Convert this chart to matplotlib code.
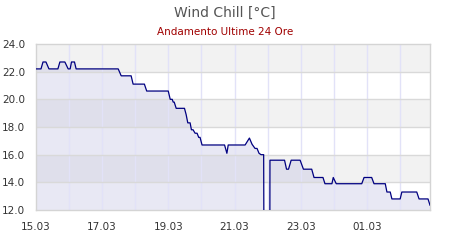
import matplotlib
matplotlib.use("Agg")
import matplotlib.pyplot as plt

# Data (days since 15.03, wind chill in °C)
days = [0.00, 0.16, 0.22, 0.31, 0.40, 0.67, 0.73, 0.88, 0.98, 1.04, 1.08, 1.17, 1.22,
        2.49, 2.58, 2.88, 2.94, 3.28, 3.35, 4.00, 4.06, 4.12, 4.15, 4.18, 4.24, 4.49,
        4.54, 4.59, 4.66, 4.70, 4.75, 4.81, 4.87, 4.92, 4.96, 5.02, 5.70, 5.77, 5.81,
        6.32, 6.45, 6.53, 6.62, 6.68, 6.74, 6.80, 6.88, 6.90, 7.06, 7.07, 7.51, 7.57,
        7.63, 7.71, 7.98, 8.08, 8.33, 8.40, 8.67, 8.73, 8.94, 8.98, 9.07, 9.84, 9.91,
        10.14, 10.21, 10.55, 10.60, 10.70, 10.75, 11.00, 11.05, 11.50, 11.57, 11.84, 11.90]
wind_chill = [22.2, 22.2, 22.7, 22.7, 22.2, 22.2, 22.7, 22.7, 22.2, 22.2, 22.7, 22.7, 22.2,
              22.2, 21.7, 21.7, 21.1, 21.1, 20.6, 20.6, 20.0, 20.0, 19.8, 19.8, 19.35, 19.35,
              18.9, 18.3, 18.3, 17.8, 17.8, 17.55, 17.55, 17.25, 17.25, 16.7, 16.7, 16.1, 16.7,
              16.7, 17.2, 16.75, 16.45, 16.45, 16.1, 16.0, 16.0, 0.0, 0.0, 15.6, 15.6, 14.95,
              14.95, 15.6, 15.6, 14.95, 14.95, 14.35, 14.35, 13.9, 13.9, 14.35, 13.9, 13.9, 14.35,
              14.35, 13.9, 13.9, 13.3, 13.3, 12.8, 12.8, 13.3, 13.3, 12.8, 12.8, 12.35]

x_tick_pos = list(range(12))
x_tick_labels = ["15.03", "", "17.03", "", "19.03", "", "21.03", "", "23.03", "", "01.03", ""]
y_ticks = [12, 14, 16, 18, 20, 22, 24]
band_ranges = [(14, 16), (18, 20), (22, 24)]

fig = plt.figure(figsize=(4.5, 2.4), dpi=100)
ax = fig.add_axes([35.7 / 450, 1 - 210 / 240, (430 - 35.7) / 450, (210 - 44) / 240])

for lo, hi in band_ranges:
    ax.axhspan(lo, hi, color="#f2f2f2", zorder=0, lw=0)

ax.fill_between(days, wind_chill, 12, color="#b4b4dc", alpha=0.3, lw=0, zorder=1)

for xv in x_tick_pos[1:]:
    ax.axvline(xv, color="#e2e2f8", lw=1, zorder=1.5)
for yv in y_ticks[1:-1]:
    ax.axhline(yv, color="#d9d9d9", lw=1, zorder=1.5)

ax.plot(days, wind_chill, color="#000080", lw=0.9, zorder=3)

ax.set_xlim(0, 11.9)
ax.set_ylim(12, 24)
ax.set_xticks(x_tick_pos)
ax.set_xticklabels(x_tick_labels)
ax.set_yticks(y_ticks)
ax.set_yticklabels([f"{v:.1f}" for v in y_ticks])
ax.tick_params(axis="both", length=0, labelsize=7.5, labelcolor="#333333")
ax.tick_params(axis="x", pad=8.5)
ax.tick_params(axis="y", pad=7.5)
for s in ax.spines.values():
    s.set_color("#d4d4d4")
    s.set_linewidth(1)

fig.text(225 / 450, 1 - 12.5 / 240, "Wind Chill [°C]", ha="center", va="center",
         fontsize=10, color="#555555")
fig.text(225 / 450, 1 - 32 / 240, "Andamento Ultime 24 Ore", ha="center", va="center",
         fontsize=7.5, color="#a00000")

fig.savefig("out.png", dpi=100)
